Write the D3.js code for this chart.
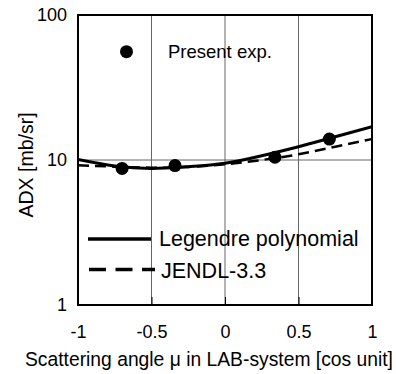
<!DOCTYPE html>
<html>
<head>
<meta charset="utf-8">
<script src="https://cdn.jsdelivr.net/npm/d3@7"></script>
<style>
  body { margin: 0; background: #fff; }
  text { font-family: "Liberation Sans", Arial, sans-serif; fill: #000; }
</style>
</head>
<body>
<div id="chart"></div>
<script>
// measured points (present experiment)
const expMu = [-0.70, -0.34, 0.34, 0.71];
const expAdx = [8.75, 9.15, 10.45, 13.95];

// curves
const curveMu = [-1, -0.75, -0.5, -0.25, 0, 0.25, 0.5, 0.75, 1];
const legendreAdx = [10.1, 9.1, 8.75, 9.0, 9.5, 10.7, 12.35, 14.45, 17.0];
const jendlAdx = [9.2, 9.0, 8.85, 8.95, 9.35, 10.0, 10.95, 12.35, 13.95];

const xTicks = [-1, -0.5, 0, 0.5, 1];
const yTicks = [1, 10, 100];

const width = 396, height = 374,
    margin = ({ top: 15, right: 24, bottom: 69, left: 78 });

const svg = d3.select("#chart")
    .append("svg")
    .attr("width", width)
    .attr("height", height);

const x = d3.scaleLinear()
    .domain([-1, 1])
    .range([margin.left, width - margin.right]);

const y = d3.scaleLog()
    .domain([1, 100])
    .range([height - margin.bottom, margin.top]);

// grid lines
svg.append("g")
    .selectAll("line")
    .data([-0.5, 0, 0.5])
    .join("line")
    .attr("x1", d => x(d)).attr("x2", d => x(d))
    .attr("y1", y(100)).attr("y2", y(1))
    .attr("stroke", "#666")
    .attr("stroke-width", 1);

svg.append("line")
    .attr("x1", x(-1)).attr("x2", x(1))
    .attr("y1", y(10)).attr("y2", y(10))
    .attr("stroke", "#666")
    .attr("stroke-width", 1);

// axes (labels only, frame drawn below)
svg.append("g")
    .attr("transform", `translate(0,${height - margin.bottom})`)
    .call(d3.axisBottom(x).tickValues(xTicks).tickSize(-8).tickPadding(20).tickFormat(d => d))
    .call(g => g.select(".domain").remove())
    .call(g => g.selectAll("text").attr("font-size", 18).attr("font-family", "Liberation Sans, Arial, sans-serif"));

svg.append("g")
    .attr("transform", `translate(${margin.left},0)`)
    .call(d3.axisLeft(y).tickValues(yTicks).tickSize(-8).tickPadding(11).tickFormat(d3.format("d")))
    .call(g => g.select(".domain").remove())
    .call(g => g.selectAll("text").attr("font-size", 18).attr("font-family", "Liberation Sans, Arial, sans-serif"));

// clip
svg.append("clipPath").attr("id", "clip")
  .append("rect")
    .attr("x", x(-1)).attr("y", y(100))
    .attr("width", x(1) - x(-1)).attr("height", y(1) - y(100));

const line = d3.line()
    .x(d => x(d[0]))
    .y(d => y(d[1]))
    .curve(d3.curveNatural);

svg.append("path")
    .datum(d3.zip(curveMu, jendlAdx))
    .attr("clip-path", "url(#clip)")
    .attr("d", line)
    .attr("fill", "none")
    .attr("stroke", "#000")
    .attr("stroke-width", 2.5)
    .attr("stroke-dasharray", "11,6");

svg.append("path")
    .datum(d3.zip(curveMu, legendreAdx))
    .attr("clip-path", "url(#clip)")
    .attr("d", line)
    .attr("fill", "none")
    .attr("stroke", "#000")
    .attr("stroke-width", 3);

svg.append("g")
    .selectAll("circle")
    .data(d3.zip(expMu, expAdx))
    .join("circle")
    .attr("cx", d => x(d[0]))
    .attr("cy", d => y(d[1]))
    .attr("r", 6.5)
    .attr("fill", "#000");

// frame
svg.append("rect")
    .attr("x", x(-1)).attr("y", y(100))
    .attr("width", x(1) - x(-1)).attr("height", y(1) - y(100))
    .attr("fill", "none")
    .attr("stroke", "#000")
    .attr("stroke-width", 2);

// legend
svg.append("circle")
    .attr("cx", 126.5).attr("cy", 51.7).attr("r", 6.5).attr("fill", "#000");
svg.append("text")
    .attr("x", 168).attr("y", 58.3)
    .attr("font-size", 18.5)
    .text("Present exp.");

svg.append("line")
    .attr("x1", 88).attr("x2", 151).attr("y1", 239).attr("y2", 239)
    .attr("stroke", "#000").attr("stroke-width", 3.5);
svg.append("text")
    .attr("x", 159).attr("y", 245.5)
    .attr("font-size", 21.5)
    .text("Legendre polynomial");

svg.append("line")
    .attr("x1", 89).attr("x2", 155).attr("y1", 269.5).attr("y2", 269.5)
    .attr("stroke", "#000").attr("stroke-width", 3.5)
    .attr("stroke-dasharray", "17,9.5");
svg.append("text")
    .attr("x", 161).attr("y", 278)
    .attr("font-size", 21.5)
    .text("JENDL-3.3");

// axis titles
svg.append("text")
    .attr("x", 209).attr("y", 366)
    .attr("text-anchor", "middle")
    .attr("font-size", 19.3)
    .text("Scattering angle \u03bc in LAB-system [cos unit]");

svg.append("text")
    .attr("transform", "translate(33,165) rotate(-90)")
    .attr("text-anchor", "middle")
    .attr("font-size", 19.5)
    .text("ADX [mb/sr]");
</script>
</body>
</html>
